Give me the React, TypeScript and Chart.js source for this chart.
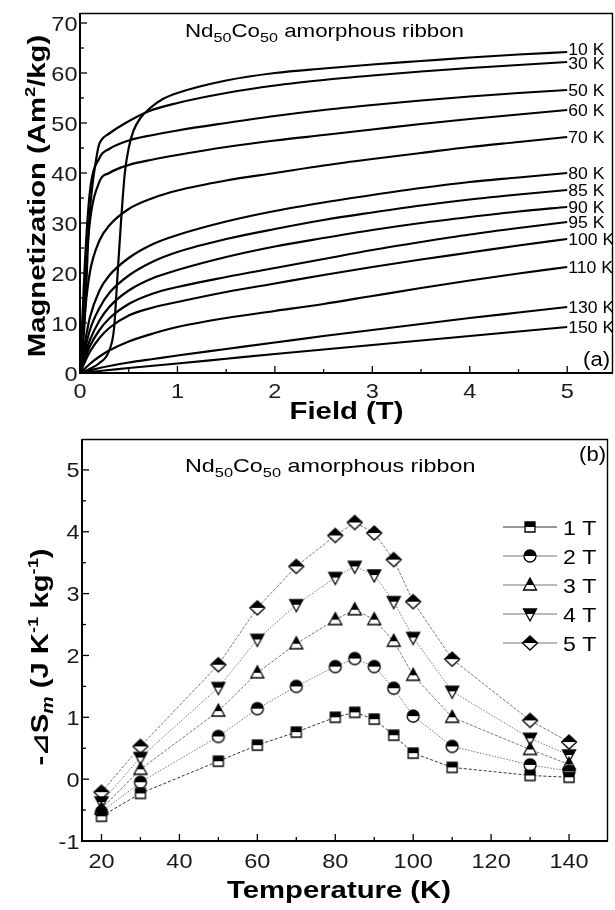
import React, { useEffect, useRef } from 'react';
import { Chart, registerables } from 'chart.js';

Chart.register(...registerables);

const FONT = '"Liberation Sans", Arial, Helvetica, sans-serif';

// ---------------- Panel (a): magnetization isotherms ----------------
const isoTemps = ['10 K', '30 K', '50 K', '60 K', '70 K', '80 K', '85 K', '90 K', '95 K', '100 K', '110 K', '130 K', '150 K'];
const fieldGrid = [0, 0.05, 0.1, 0.2, 0.3, 0.5, 0.75, 1, 1.5, 2, 2.5, 3, 3.5, 4, 4.5, 5];
const field10K = [0, 0.1, 0.2, 0.3, 0.35, 0.38, 0.42, 0.46, 0.5, 0.55, 0.62, 0.72, 0.85, 1, 1.5, 2, 2.5, 3, 3.5, 4, 4.5, 5];
const mag10K = [0, 0.8, 2, 4.5, 9, 18, 30, 40, 45, 48.5, 51, 53, 54.8, 56, 58.5, 60, 60.9, 61.7, 62.4, 63.1, 63.7, 64.2];
const field30K = [0, 0.03, 0.06, 0.08, 0.1, 0.13, 0.16, 0.19, 0.22, 0.3, 0.45, 0.7, 1, 1.5, 2, 2.5, 3, 3.5, 4, 4.5, 5];
const mag30K = [0, 5, 15, 25, 32, 38, 42, 45.3, 46.6, 47.9, 49.8, 52.3, 54, 56, 57.5, 58.6, 59.5, 60.3, 61, 61.6, 62.2];
const mag50K = [0, 22, 36, 43, 44.8, 46.5, 47.6, 48.5, 50, 51.4, 52.6, 53.6, 54.5, 55.3, 56, 56.6];
const mag60K = [0, 18, 30, 38.3, 40, 41.6, 42.7, 43.6, 45.2, 46.5, 47.6, 48.7, 49.8, 50.8, 51.7, 52.6];
const mag70K = [0, 12, 20, 26.5, 29.5, 32.8, 35, 36.5, 38.5, 40, 41.5, 42.8, 44, 45.2, 46.2, 47.2];
const mag80K = [0, 6, 11, 16.5, 19.5, 23, 25.8, 27.6, 30.3, 32.4, 34.1, 35.6, 37, 38.2, 39.1, 40];
const mag85K = [0, 4.5, 8.5, 13, 16, 19.5, 22.3, 24.2, 26.8, 28.8, 30.6, 32.1, 33.5, 34.7, 35.7, 36.6];
const mag90K = [0, 3.5, 6.5, 10.5, 13.2, 16.5, 19, 20.6, 23.2, 25.3, 27, 28.6, 30, 31.2, 32.3, 33.2];
const mag95K = [0, 2.8, 5.3, 8.6, 10.9, 13.8, 15.9, 17.2, 19.2, 21.0, 22.8, 24.6, 26.2, 27.7, 29, 30.2];
const mag100K = [0, 2.2, 4.2, 7, 9, 11.5, 13.1, 14.2, 16.2, 17.9, 19.6, 21.2, 22.7, 24.1, 25.5, 26.8];
const mag110K = [0, 0.9, 1.8, 3.3, 4.5, 6.3, 7.9, 9.2, 11.0, 12.4, 13.8, 15.4, 17.0, 18.5, 19.9, 21.2];
const mag130K = [0, 0.25, 0.5, 1, 1.4, 2.1, 2.8, 3.5, 4.8, 6.1, 7.4, 8.6, 9.8, 11, 12.1, 13.2];
const mag150K = [0, 0.1, 0.2, 0.4, 0.6, 1, 1.45, 1.9, 2.85, 3.8, 4.7, 5.6, 6.5, 7.4, 8.3, 9.2];

const isoFields = [field10K, field30K, fieldGrid, fieldGrid, fieldGrid, fieldGrid, fieldGrid, fieldGrid, fieldGrid, fieldGrid, fieldGrid, fieldGrid, fieldGrid];
const isoMags = [mag10K, mag30K, mag50K, mag60K, mag70K, mag80K, mag85K, mag90K, mag95K, mag100K, mag110K, mag130K, mag150K];
// small vertical nudges (px) of the end labels, as in the original
const isoLabelNudge = [-3, 1.5, 0, 0, 0, 0, 0, 0, 0, 0, 0, 0, 0];

const aXMajor = [0, 1, 2, 3, 4, 5];
const aYMajor = [0, 10, 20, 30, 40, 50, 60, 70];
const aXRange = [0, 5.47];
const aYRange = [0, 72];

// ---------------- Panel (b): entropy change ----------------
const tempK = [20, 30, 50, 60, 70, 80, 85, 90, 95, 100, 110, 130, 140];
const dS1T = [-0.6, -0.23, 0.29, 0.55, 0.76, 1.0, 1.08, 0.97, 0.71, 0.42, 0.19, 0.06, 0.03];
const dS2T = [-0.53, -0.05, 0.69, 1.14, 1.5, 1.82, 1.95, 1.82, 1.47, 1.02, 0.53, 0.23, 0.13];
const dS3T = [-0.48, 0.16, 1.1, 1.72, 2.19, 2.58, 2.74, 2.58, 2.23, 1.68, 1.0, 0.48, 0.24];
const dS4T = [-0.37, 0.35, 1.48, 2.26, 2.82, 3.26, 3.44, 3.3, 2.87, 2.29, 1.42, 0.66, 0.39];
const dS5T = [-0.21, 0.53, 1.85, 2.77, 3.44, 3.94, 4.15, 3.98, 3.55, 2.87, 1.94, 0.95, 0.6];
const fieldLabels = ['1 T', '2 T', '3 T', '4 T', '5 T'];
const dSSeries = [dS1T, dS2T, dS3T, dS4T, dS5T];
const markerShapes = ['square', 'circle', 'triangle', 'triangleDown', 'diamond'];
const lineColors = ['#333', '#777', '#777', '#777', '#777'];
const lineDashes = [[3, 2], [1.5, 1.5], [3, 1.5], [1.5, 1.5], [3, 1.5]];

const bXMajor = [20, 40, 60, 80, 100, 120, 140];
const bYMajor = [-1, 0, 1, 2, 3, 4, 5];
const bXRange = [15, 150];
const bYRange = [-1, 5.5];

// ---------------- helpers ----------------
type Seg = { t: string; size: number; bold?: boolean; italic?: boolean; dy?: number; family?: string };

function segFont(s: Seg) {
  return `${s.italic ? 'italic ' : ''}${s.bold ? 'bold ' : ''}${s.size}px ${s.family || FONT}`;
}

function drawRich(ctx: CanvasRenderingContext2D, segs: Seg[], x: number, y: number, align: 'left' | 'center' | 'right', rot = 0, sx = 1, color = '#000') {
  ctx.save();
  ctx.translate(x, y);
  ctx.rotate(rot);
  ctx.scale(sx, 1);
  ctx.textBaseline = 'alphabetic';
  ctx.textAlign = 'left';
  ctx.fillStyle = color;
  let total = 0;
  const widths = segs.map((s) => {
    ctx.font = segFont(s);
    const w = ctx.measureText(s.t).width;
    total += w;
    return w;
  });
  let cx = align === 'left' ? 0 : align === 'center' ? -total / 2 : -total;
  segs.forEach((s, i) => {
    ctx.font = segFont(s);
    ctx.fillText(s.t, cx, s.dy || 0);
    cx += widths[i];
  });
  ctx.restore();
}

function drawFrameAndTicks(chart: any, xMajor: number[], yMajor: number[], labelSize: number, xLabelDy: number) {
  const ctx: CanvasRenderingContext2D = chart.ctx;
  const { left, right, top, bottom } = chart.chartArea;
  const xs = chart.scales.x;
  const ys = chart.scales.y;
  ctx.save();
  ctx.strokeStyle = '#000';
  ctx.lineCap = 'butt';
  ctx.lineWidth = 1.4;
  ctx.beginPath();
  ctx.moveTo(left, top + 0.5);
  ctx.lineTo(right, top + 0.5);
  ctx.moveTo(right - 0.5, top);
  ctx.lineTo(right - 0.5, bottom);
  ctx.stroke();
  ctx.lineWidth = 2;
  ctx.beginPath();
  ctx.moveTo(left, top);
  ctx.lineTo(left, bottom);
  ctx.lineTo(right, bottom);
  ctx.stroke();
  ctx.lineWidth = 1.3;
  const tick = (x1: number, y1: number, x2: number, y2: number) => {
    ctx.beginPath();
    ctx.moveTo(x1, y1);
    ctx.lineTo(x2, y2);
    ctx.stroke();
  };
  xMajor.forEach((v, i) => {
    const px = xs.getPixelForValue(v);
    tick(px, bottom, px, bottom - 7);
    if (i < xMajor.length - 1) {
      const m = xs.getPixelForValue((v + xMajor[i + 1]) / 2);
      tick(m, bottom, m, bottom - 4);
    }
  });
  yMajor.forEach((v, i) => {
    const py = ys.getPixelForValue(v);
    tick(left, py, left + 7, py);
    if (i < yMajor.length - 1) {
      const m = ys.getPixelForValue((v + yMajor[i + 1]) / 2);
      tick(left, m, left + 4, m);
    }
  });
  ctx.restore();
  xMajor.forEach((v) => {
    drawRich(ctx, [{ t: String(v), size: labelSize }], xs.getPixelForValue(v), bottom + xLabelDy, 'center', 0, 1.12, '#1a1a1a');
  });
  yMajor.forEach((v) => {
    drawRich(ctx, [{ t: String(v), size: labelSize }], left - 2.5, ys.getPixelForValue(v) + labelSize * 0.36, 'right', 0, 1.12, '#1a1a1a');
  });
}

function titleSegs(size: number): Seg[] {
  const sub = Math.round(size * 0.72);
  return [
    { t: 'Nd', size },
    { t: '50', size: sub, dy: 5 },
    { t: 'Co', size },
    { t: '50', size: sub, dy: 5 },
    { t: ' amorphous ribbon', size },
  ];
}

function makeMarker(shape: string): HTMLCanvasElement {
  const S = 20;
  const c = document.createElement('canvas');
  c.width = S;
  c.height = S;
  const ctx = c.getContext('2d') as CanvasRenderingContext2D;
  const cx = S / 2;
  const cy = S / 2;
  const path = () => {
    ctx.beginPath();
    if (shape === 'square') {
      ctx.rect(cx - 5, cy - 5, 10, 10);
    } else if (shape === 'circle') {
      ctx.arc(cx, cy, 6, 0, Math.PI * 2);
    } else if (shape === 'triangle') {
      ctx.moveTo(cx, cy - 7);
      ctx.lineTo(cx + 6.5, cy + 5);
      ctx.lineTo(cx - 6.5, cy + 5);
      ctx.closePath();
    } else if (shape === 'triangleDown') {
      ctx.moveTo(cx - 6.5, cy - 5);
      ctx.lineTo(cx + 6.5, cy - 5);
      ctx.lineTo(cx, cy + 7);
      ctx.closePath();
    } else {
      ctx.moveTo(cx, cy - 7);
      ctx.lineTo(cx + 7.5, cy);
      ctx.lineTo(cx, cy + 7);
      ctx.lineTo(cx - 7.5, cy);
      ctx.closePath();
    }
  };
  path();
  ctx.fillStyle = '#fff';
  ctx.fill();
  ctx.save();
  path();
  ctx.clip();
  ctx.fillStyle = '#000';
  ctx.fillRect(0, 0, S, cy);
  ctx.restore();
  path();
  ctx.lineWidth = 1.3;
  ctx.strokeStyle = '#000';
  ctx.stroke();
  return c;
}

// ---------------- configs ----------------
function topConfig(): any {
  const datasets = isoMags.map((m, i) => ({
    label: isoTemps[i],
    data: m.map((v, j) => ({ x: isoFields[i][j], y: v })),
    borderColor: '#000',
    borderWidth: 2.2,
    pointRadius: 0,
    cubicInterpolationMode: 'monotone',
    fill: false,
  }));
  return {
    type: 'line',
    data: { datasets },
    options: {
      responsive: false,
      animation: false,
      devicePixelRatio: 1,
      events: [],
      layout: { padding: { left: 80, right: 2, top: 13, bottom: 57 } },
      scales: {
        x: { type: 'linear', display: false, min: aXRange[0], max: aXRange[1] },
        y: { type: 'linear', display: false, min: aYRange[0], max: aYRange[1] },
      },
      plugins: { legend: { display: false }, tooltip: { enabled: false } },
    },
    plugins: [
      {
        id: 'decoA',
        afterDraw(chart: any) {
          const ctx: CanvasRenderingContext2D = chart.ctx;
          const { left, right, top, bottom } = chart.chartArea;
          const xs = chart.scales.x;
          const ys = chart.scales.y;
          ctx.save();
          ctx.beginPath();
          ctx.rect(left, top, right - left, bottom - top);
          ctx.clip();
          isoMags.forEach((m, i) => {
            const f = isoFields[i];
            const px = xs.getPixelForValue(f[f.length - 1]) + 1;
            const py = ys.getPixelForValue(m[m.length - 1]) + isoLabelNudge[i];
            drawRich(ctx, [{ t: isoTemps[i], size: 16 }], px, py + 5.7, 'left', 0, 1.1, '#000');
          });
          ctx.restore();
          drawFrameAndTicks(chart, aXMajor, aYMajor, 21, 25);
          drawRich(ctx, titleSegs(18), 185, 37, 'left', 0, 1.24);
          drawRich(ctx, [{ t: '(a)', size: 20 }], right - 3, 366, 'right', 0, 1.1);
          drawRich(ctx, [{ t: 'Field (T)', size: 24, bold: true }], (left + right) / 2, 419, 'center', 0, 1.22);
          drawRich(
            ctx,
            [
              { t: 'Magnetization (Am', size: 24, bold: true },
              { t: '2', size: 15, bold: true, dy: -10 },
              { t: '/kg)', size: 24, bold: true },
            ],
            45,
            196,
            'center',
            -Math.PI / 2,
            1.22
          );
        },
      },
    ],
  };
}

function bottomConfig(markers: HTMLCanvasElement[]): any {
  const datasets = dSSeries.map((s, i) => ({
    label: fieldLabels[i],
    data: s.map((v, j) => ({ x: tempK[j], y: v })),
    borderColor: lineColors[i],
    borderWidth: 1,
    borderDash: lineDashes[i],
    pointStyle: markers[i],
    pointRadius: 6,
    tension: 0,
    fill: false,
  }));
  return {
    type: 'line',
    data: { datasets },
    options: {
      responsive: false,
      animation: false,
      devicePixelRatio: 1,
      events: [],
      layout: { padding: { left: 82, right: 1, top: 9, bottom: 69 } },
      scales: {
        x: { type: 'linear', display: false, min: bXRange[0], max: bXRange[1] },
        y: { type: 'linear', display: false, min: bYRange[0], max: bYRange[1] },
      },
      plugins: { legend: { display: false }, tooltip: { enabled: false } },
    },
    plugins: [
      {
        id: 'decoB',
        afterDraw(chart: any) {
          const ctx: CanvasRenderingContext2D = chart.ctx;
          const { left, right } = chart.chartArea;
          drawFrameAndTicks(chart, bXMajor, bYMajor, 21, 27);
          drawRich(ctx, titleSegs(18.5), 185, 42, 'left', 0, 1.26);
          drawRich(ctx, [{ t: '(b)', size: 20 }], right - 2, 31, 'right', 0, 1.1);
          fieldLabels.forEach((lab, i) => {
            const y = 97 + i * 29;
            ctx.save();
            ctx.strokeStyle = lineColors[i];
            ctx.lineWidth = 1.2;
            ctx.beginPath();
            ctx.moveTo(503, y);
            ctx.lineTo(557, y);
            ctx.stroke();
            ctx.drawImage(markers[i], 530 - markers[i].width / 2, y - markers[i].height / 2);
            ctx.restore();
            drawRich(ctx, [{ t: lab, size: 21 }], 563, y + 7.5, 'left', 0, 1.1);
          });
          drawRich(ctx, [{ t: 'Temperature (K)', size: 24, bold: true }], (left + right) / 2 - 6, 468, 'center', 0, 1.22);
          drawRich(
            ctx,
            [
              { t: '-', size: 24, bold: true },
              { t: '\u22BF', size: 22, bold: true, family: '"DejaVu Sans"' },
              { t: 'S', size: 24, bold: true },
              { t: 'm', size: 16, bold: true, italic: true, dy: 5 },
              { t: ' (J K', size: 24, bold: true },
              { t: '-1', size: 15, bold: true, dy: -10 },
              { t: ' kg', size: 24, bold: true },
              { t: '-1', size: 15, bold: true, dy: -10 },
              { t: ')', size: 24, bold: true },
            ],
            48,
            227,
            'center',
            -Math.PI / 2,
            1.22
          );
        },
      },
    ],
  };
}

export default function App() {
  const topRef = useRef<HTMLCanvasElement>(null);
  const botRef = useRef<HTMLCanvasElement>(null);
  useEffect(() => {
    Chart.defaults.font.family = FONT;
    const markers = markerShapes.map((s) => makeMarker(s));
    const c1 = new Chart(topRef.current as HTMLCanvasElement, topConfig());
    const c2 = new Chart(botRef.current as HTMLCanvasElement, bottomConfig(markers));
    return () => {
      c1.destroy();
      c2.destroy();
    };
  }, []);
  return (
    <div style={{ position: 'absolute', left: 0, top: 0, width: 615, height: 910, background: '#fff' }}>
      <canvas ref={topRef} width={615} height={430} style={{ display: 'block', width: 615, height: 430 }} />
      <canvas ref={botRef} width={615} height={480} style={{ display: 'block', width: 615, height: 480 }} />
    </div>
  );
}
